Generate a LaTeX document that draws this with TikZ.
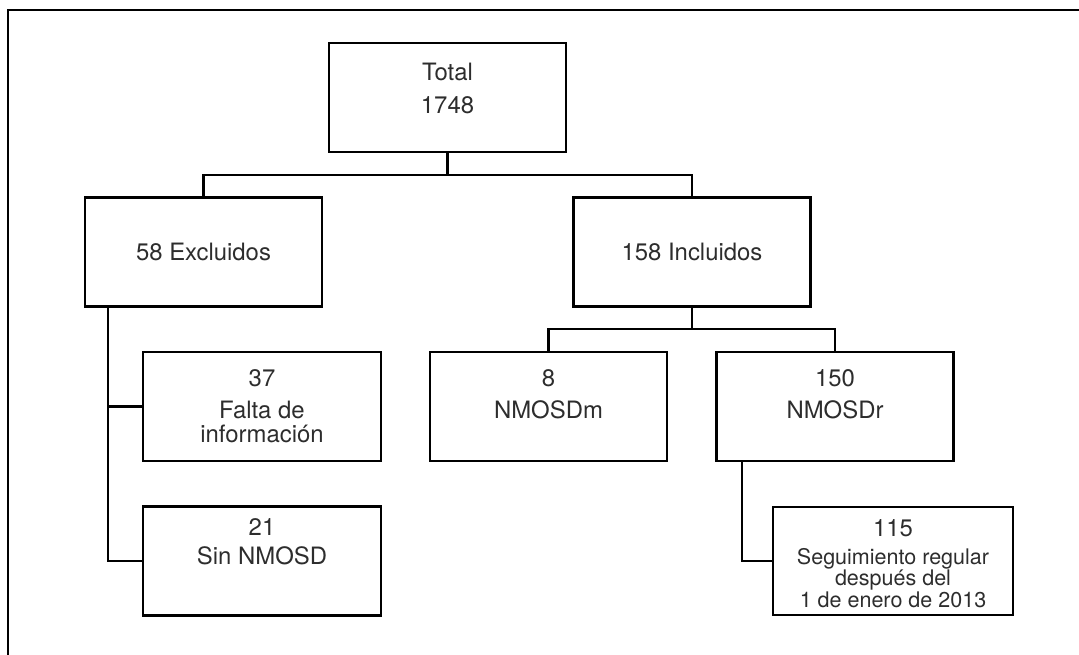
\documentclass[tikz,border=0pt]{standalone}
\usepackage{fontspec}
\setmainfont{TeX Gyre Heros}
\usetikzlibrary{positioning}
\definecolor{txtgray}{RGB}{45,45,45}
\begin{document}
\begin{tikzpicture}[x=0.025cm, y=-0.025cm,
    caja/.style={draw=black, line width=1.6pt, minimum width=5.925cm, minimum height=2.725cm, inner sep=0pt},
    texto/.style={inner sep=0pt, align=center, text=txtgray, font=\fontsize{17}{17}\selectfont},
    chico/.style={texto, font=\fontsize{15.3}{14}\selectfont},
    linea/.style={line width=1.6pt}]
  \useasboundingbox (0,0) rectangle (1079,655);

  % marco
  \draw [line width=1.1pt] (1079,10) -- (8,10) -- (8,655);

  % cajas
  \node [caja] (tot) at (447.5,97.5) {};
  \node [caja, texto] (exc) at (203.5,252) {58 Excluidos};
  \node [caja, texto] (inc) at (692,252) {158 Incluidos};
  \node [caja, minimum width=5.95cm] (f37) at (262,406.5) {};
  \node [caja, minimum width=5.95cm] (sin) at (262,561) {};
  \node [caja] (m8) at (548.5,406.5) {};
  \node [caja] (r150) at (835,406.5) {};
  \node [caja, minimum width=6cm, minimum height=2.7cm] (seg) at (893,561) {};

  % textos
  \node [texto, below=14.9pt of tot.north] (tot-t) {Total\\[6.5pt]1748};
  \node [texto, below=13pt of f37.north] (f37-t) {37\\[6pt]Falta de\\información};
  \node [texto, below=9.5pt of sin.north] (sin-t) {21\\[3.5pt]Sin NMOSD};
  \node [texto, below=13pt of m8.north] (m8-t) {8\\[6pt]NMOSDm};
  \node [texto, below=13pt of r150.north] (r150-t) {150\\[6pt]NMOSDr};
  \node [chico, below=9.2pt of seg.north] (seg-t) {{\fontsize{17}{17}\selectfont 115}\\[6pt]Seguimiento regular\\después del\\1 de enero de 2013};

  % conectores
  \coordinate (j1) at (447.5,175);
  \draw [linea] (tot.south) -- (j1);
  \draw [linea] (exc.north) |- (j1) -| (inc.north);

  \coordinate (j2) at (692,329);
  \draw [linea] (inc.south) -- (j2);
  \draw [linea] (m8.north) |- (j2) -| (r150.north);

  \coordinate (j3) at (108,0);
  \draw [linea] (exc.south -| j3) |- (f37.west);
  \draw [linea] (exc.south -| j3) |- (sin.west);

  \coordinate (j4) at (742,0);
  \draw [linea] (r150.south -| j4) |- (seg.west);
\end{tikzpicture}
\end{document}
